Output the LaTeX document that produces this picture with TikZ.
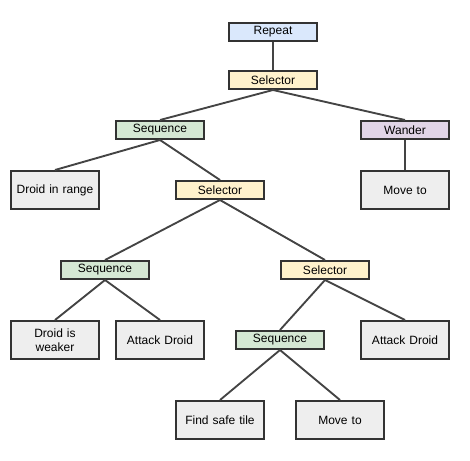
\documentclass[tikz,border=0pt]{standalone}
\usepackage{fontspec}
\setmainfont{Liberation Sans}
\definecolor{bordc}{HTML}{333333}
\definecolor{edgec}{HTML}{444444}
\definecolor{repc}{HTML}{DAE8FC}
\definecolor{selc}{HTML}{FFF2CC}
\definecolor{seqc}{HTML}{D5E8D4}
\definecolor{wanc}{HTML}{E1D5E7}
\definecolor{actc}{HTML}{EEEEEE}
\begin{document}
\begin{tikzpicture}[x=0.75pt,y=-0.75pt,
  box/.style={draw=bordc,line width=1.5pt,inner sep=0pt,minimum width=66pt,font=\fontsize{9}{10.5}\selectfont,align=center},
  ctl/.style={box,minimum height=13.5pt},
  act/.style={box,minimum height=28.5pt,fill=actc,text width=60pt},
  rep/.style={ctl,fill=repc},
  sel/.style={ctl,fill=selc},
  seq/.style={ctl,fill=seqc},
  wan/.style={ctl,fill=wanc},
  edge/.style={draw=edgec,line width=1.4pt}]
\useasboundingbox (0,0) rectangle (470,460);
\node[rep] (repeat) at (273,32) {Repeat};
\node[sel] (sel1) at (273,80) {Selector};
\node[seq] (seq1) at (160,130) {Sequence};
\node[wan] (wander) at (405,130) {Wander};
\node[act] (range) at (55,190) {Droid in range};
\node[sel] (sel2) at (220,190) {Selector};
\node[act] (move1) at (405,190) {Move to};
\node[seq] (seq2) at (105,270) {Sequence};
\node[sel] (sel3) at (325,270) {Selector};
\node[act] (weaker) at (55,340) {Droid is\\weaker};
\node[act] (attack1) at (160,340) {Attack Droid};
\node[seq] (seq3) at (280,340) {Sequence};
\node[act] (attack2) at (405,340) {Attack Droid};
\node[act] (safe) at (220,420) {Find safe tile};
\node[act] (move2) at (340,420) {Move to};
\begin{scope}[on background layer/.try]
\end{scope}
\path[edge] (repeat.south) -- (sel1.north);
\path[edge] (sel1.south) -- (seq1.north);
\path[edge] (sel1.south) -- (wander.north);
\path[edge] (seq1.south) -- (range.north);
\path[edge] (seq1.south) -- (sel2.north);
\path[edge] (wander.south) -- (move1.north);
\path[edge] (sel2.south) -- (seq2.north);
\path[edge] (sel2.south) -- (sel3.north);
\path[edge] (seq2.south) -- (weaker.north);
\path[edge] (seq2.south) -- (attack1.north);
\path[edge] (sel3.south) -- (seq3.north);
\path[edge] (sel3.south) -- (attack2.north);
\path[edge] (seq3.south) -- (safe.north);
\path[edge] (seq3.south) -- (move2.north);
\end{tikzpicture}
\end{document}
